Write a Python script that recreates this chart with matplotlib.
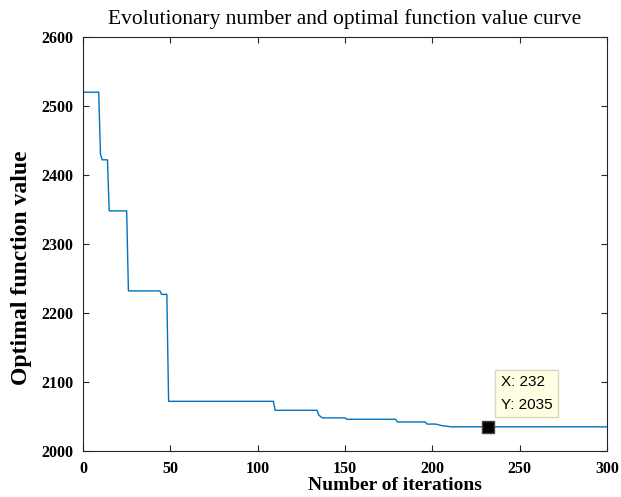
import matplotlib
matplotlib.use("Agg")
import matplotlib.pyplot as plt

# Data: iteration, best function value
iters = [1, 9, 10, 11, 14, 15, 25, 26, 44, 45, 48, 49, 109, 110, 134, 135, 137,
         150, 151, 179, 180, 196, 197, 202, 205, 211, 300]
values = [2520, 2520, 2430, 2422, 2422, 2348, 2348, 2232, 2232, 2227, 2227, 2072,
          2072, 2059, 2059, 2052, 2048, 2048, 2046, 2046, 2042, 2042, 2039, 2039,
          2037, 2035, 2035]
tip_x = 232
tip_y = 2035
xticks = [0, 50, 100, 150, 200, 250, 300]
yticks = [2000, 2100, 2200, 2300, 2400, 2500, 2600]

fig = plt.figure(figsize=(6.21, 4.97), dpi=100)
ax = fig.add_axes([83/621, 46/497, 524/621, 414/497])

ax.plot(iters, values, color="#0072BD", lw=1.0)
ax.plot([tip_x], [tip_y], marker="s", ms=8, color="black", mec="#444444", ls="none", zorder=5)
ax.annotate(f"X: {tip_x}\nY: {tip_y}", xy=(tip_x, tip_y), xytext=(9, 11),
            textcoords="offset points", ha="left", va="bottom",
            fontsize=11, family="Liberation Sans", linespacing=1.75,
            bbox=dict(boxstyle="square,pad=0.35", fc="#FFFFE1", ec="#D8D8C0", lw=1))

ax.set_xlim(0, 300)
ax.set_ylim(2000, 2600)
ax.set_xticks(xticks)
ax.set_yticks(yticks)
ax.tick_params(direction="in", top=True, right=True, length=4, width=0.8,
               color="#262626", labelsize=11.5, pad=7)
for lab in ax.get_xticklabels() + ax.get_yticklabels():
    lab.set_fontfamily("Liberation Serif")
    lab.set_fontweight("bold")
for s in ax.spines.values():
    s.set_color("#262626")
    s.set_linewidth(0.8)

ax.set_title("Evolutionary number and optimal function value curve",
             family="Liberation Serif", fontsize=15.5, pad=9)
ax.set_xlabel("Number of iterations", family="Liberation Serif", fontweight="bold",
              fontsize=14, labelpad=0)
ax.xaxis.set_label_coords((395 - 83) / 524, (451 - 486) / 414, transform=ax.transAxes)
ax.xaxis.label.set_va("center")
ax.xaxis.label.set_ha("center")
ax.set_ylabel("Optimal function value", family="Liberation Serif", fontweight="bold",
              fontsize=17)
ax.yaxis.set_label_coords((22 - 83) / 524, (451 - 268) / 414, transform=ax.transAxes)
ax.yaxis.label.set_va("center")
ax.yaxis.label.set_ha("center")

fig.savefig("out.png", dpi=100)
